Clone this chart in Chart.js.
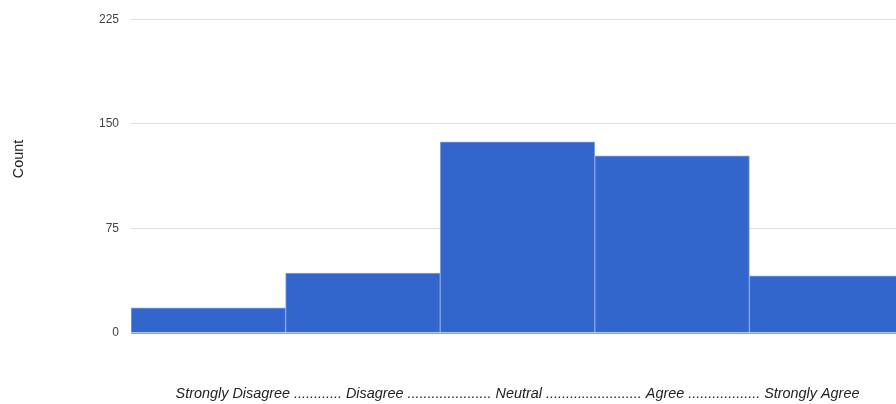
<!DOCTYPE html>
<html>
<head>
<meta charset="utf-8">
<script src="https://cdn.jsdelivr.net/npm/chart.js@4.4.0/dist/chart.umd.min.js"></script>
<style>
  html, body { margin: 0; padding: 0; background: #fff; overflow: hidden; }
  #wrap { width: 904px; height: 404px; }
</style>
</head>
<body>
<div id="wrap"><canvas id="myChart" width="904" height="404"></canvas></div>
<script>
// histogram bins and counts
var categories = ['Strongly Disagree', 'Disagree', 'Neutral', 'Agree', 'Strongly Agree'];
var counts = [18, 43, 137, 127, 41];
var yTicks = [0, 75, 150, 225];
var xTitle = 'Strongly Disagree ............ Disagree ..................... Neutral ........................ Agree .................. Strongly Agree';
var yTitle = 'Count';

// y title drawn by hand, Google puts it above the plot centre
var yTitlePlugin = {
    id: 'yTitle',
    afterDraw: function(chart) {
        var c = chart.ctx;
        c.save();
        c.translate(19, 159);
        c.rotate(-Math.PI / 2);
        c.font = '14.4px "Liberation Sans", Arial, sans-serif';
        c.fillStyle = '#222';
        c.textAlign = 'center';
        c.textBaseline = 'middle';
        c.fillText(yTitle, 0, 0);
        c.restore();
    }
};

var ctx = document.getElementById('myChart');
var chart = new Chart(ctx, {
    type: 'bar',
    data: {
        labels: categories,
        datasets: [{
            label: yTitle,
            data: counts,
            backgroundColor: '#3366cc',
            borderColor: '#86a3e3',
            borderWidth: { top: 1, left: 1, right: 1, bottom: 0 },
            borderSkipped: false,
            barPercentage: 1,
            categoryPercentage: 1
        }]
    },
    options: {
        responsive: false,
        animation: false,
        layout: { padding: { top: 18, right: 0, bottom: 0, left: 0 } },
        plugins: {
            legend: { display: false },
            tooltip: { enabled: false }
        },
        scales: {
            x: {
                grid: { display: false },
                border: { display: true, color: '#9e9e9e', width: 1 },
                ticks: { display: false },
                title: {
                    display: true,
                    text: xTitle,
                    color: '#222',
                    font: { family: '"Liberation Sans", Arial, sans-serif', size: 14.4, style: 'italic' },
                    padding: { top: 0, bottom: 1 }
                },
                afterFit: function(scale) { scale.height = 71; }
            },
            y: {
                min: 0,
                max: 225,
                afterBuildTicks: function(scale) {
                    scale.ticks = yTicks.map(function(v) { return { value: v }; });
                },
                grid: {
                    color: function(c) { return c.tick && c.tick.value === 0 ? '#9e9e9e' : '#e0e0e0'; },
                    drawTicks: false
                },
                border: { display: false },
                ticks: {
                    padding: 12,
                    color: '#444',
                    font: { family: '"Liberation Sans", Arial, sans-serif', size: 12 }
                },
                afterFit: function(scale) { scale.width = 131; }
            }
        }
    },
    plugins: [yTitlePlugin]
});
</script>
</body>
</html>
